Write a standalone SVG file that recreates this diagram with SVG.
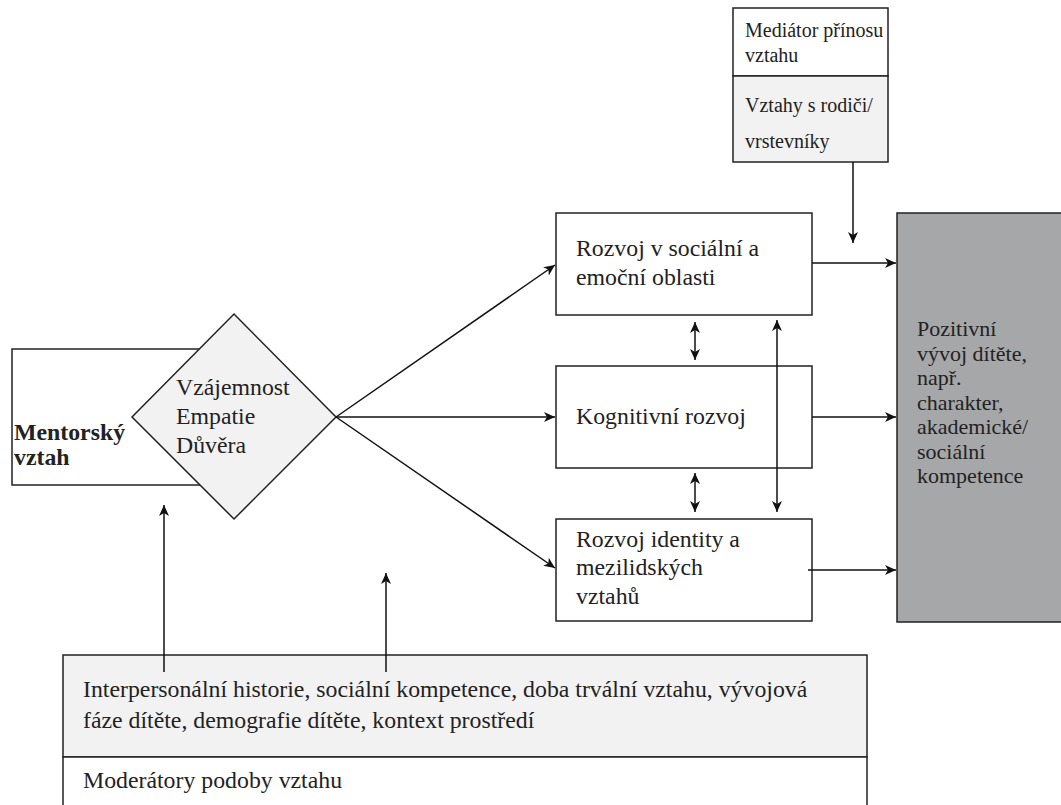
<svg xmlns="http://www.w3.org/2000/svg" width="1061" height="805" viewBox="0 0 1061 805">
<style>
.b{stroke:#222;stroke-width:1.5}
.w{fill:#fff}
.l{fill:#f2f2f2}
.g{fill:#a6a7a9}
text{font-family:'Liberation Serif','Times New Roman',Times,serif;font-size:23.8px;fill:#222}
.s{font-size:20px}
.o{font-size:22px}
.c{stroke:#111;stroke-width:1.5;fill:none}
</style>
<defs>
<marker id="a" markerUnits="userSpaceOnUse" markerWidth="12" markerHeight="12" viewBox="0 0 12 12" refX="11" refY="6" orient="auto-start-reverse">
<path d="M0,1 L11,6 L0,11 L3,6 Z" fill="#111"/>
</marker>
</defs>
<g id="mentor">
<rect class="b w" x="12" y="349" width="222" height="136"/>
<text x="14" y="440" font-weight="bold">Mentorský</text>
<text x="14" y="465" font-weight="bold">vztah</text>
</g>
<g id="diamond">
<polygon class="b l" points="234,314 336,417 234,519 132,417"/>
<text x="176" y="395">Vzájemnost</text>
<text x="176" y="424">Empatie</text>
<text x="176" y="453">Důvěra</text>
</g>
<g id="social">
<rect class="b w" x="556" y="213" width="256" height="102"/>
<text x="576" y="256">Rozvoj v sociální a</text>
<text x="576" y="285">emoční oblasti</text>
</g>
<g id="cognitive">
<rect class="b w" x="556" y="366" width="256" height="102"/>
<text x="576" y="424">Kognitivní rozvoj</text>
</g>
<g id="identity">
<rect class="b w" x="556" y="519" width="256" height="102"/>
<text x="576" y="547">Rozvoj identity a</text>
<text x="576" y="575">mezilidských</text>
<text x="576" y="604">vztahů</text>
</g>
<g id="outcome">
<rect class="b g" x="897" y="213" width="180" height="409"/>
<text class="o" x="917" y="336">Pozitivní</text>
<text class="o" x="917" y="360.5">vývoj dítěte,</text>
<text class="o" x="917" y="385">např.</text>
<text class="o" x="917" y="409.5">charakter,</text>
<text class="o" x="917" y="434">akademické/</text>
<text class="o" x="917" y="458.5">sociální</text>
<text class="o" x="917" y="483">kompetence</text>
</g>
<g id="mediator">
<rect class="b w" x="733" y="8" width="155" height="68"/>
<rect class="b l" x="733" y="76" width="155" height="86"/>
<text class="s" x="745" y="37">Mediátor přínosu</text>
<text class="s" x="745" y="62">vztahu</text>
<text class="s" x="745" y="112">Vztahy s rodiči/</text>
<text class="s" x="745" y="148">vrstevníky</text>
</g>
<g id="moderators">
<rect class="b l" x="63" y="655" width="804" height="102"/>
<rect class="b w" x="63" y="757" width="804" height="60"/>
<text x="83" y="697">Interpersonální historie, sociální kompetence, doba trvální vztahu, vývojová</text>
<text x="83" y="728">fáze dítěte, demografie dítěte, kontext prostředí</text>
<text x="83" y="788">Moderátory podoby vztahu</text>
</g>
<g id="connectors">
<path class="c" d="M336,417 L555,265" marker-end="url(#a)"/>
<path class="c" d="M336,417 L555,417" marker-end="url(#a)"/>
<path class="c" d="M336,417 L555,568" marker-end="url(#a)"/>
<path class="c" d="M812,263 L896,263" marker-end="url(#a)"/>
<path class="c" d="M812,417 L896,417" marker-end="url(#a)"/>
<path class="c" d="M808,570 L896,570" marker-end="url(#a)"/>
<path class="c" d="M853,162 L853,243" marker-end="url(#a)"/>
<path class="c" d="M695,322 L695,360" marker-start="url(#a)" marker-end="url(#a)"/>
<path class="c" d="M695,473 L695,512" marker-start="url(#a)" marker-end="url(#a)"/>
<path class="c" d="M777,320 L777,512" marker-start="url(#a)" marker-end="url(#a)"/>
<path class="c" d="M164,672 L164,505" marker-end="url(#a)"/>
<path class="c" d="M386,672 L386,573" marker-end="url(#a)"/>
</g>
</svg>
